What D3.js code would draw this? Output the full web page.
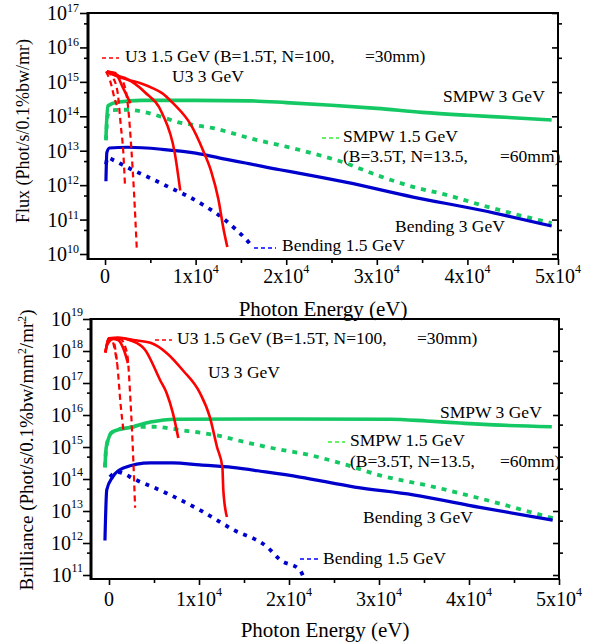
<!DOCTYPE html>
<html><head><meta charset="utf-8">
<script src="https://cdn.jsdelivr.net/npm/d3@7"></script>
<style>body{margin:0;background:#fff}svg{display:block}</style>
</head><body>
<svg id="c" width="592" height="644"></svg>
<script>
// ---------------- DATA (photon energy in eV, value) ----------------
// Top panel: Flux (Phot/s/0.1%bw/mr)
const fluxU3_15 = [
  [[100,2.0e15],[550,1.1e15],[1100,3.0e14],[1300,2.1e14]],
  [[200,2.0e15],[900,1.3e15],[1400,4.7e14],[1750,5e13],[2000,1.05e13],[2200,1.0e12]],
  [[300,2.0e15],[1500,1.5e15],[2200,7e14],[2550,1.8e14],[2900,1.2e13],[3200,6e11],[3500,1.5e10]]
];
const fluxU3_3 = [
  [[200,2.0e15],[1100,1.8e15],[2000,6.6e14],[2800,2.4e14]],
  [[200,2.0e15],[1000,1.6e15],[2200,1.3e15],[4400,5e14],[6300,1.23e14],[7700,8.5e12],[8300,7e11]],
  [[200,2.0e15],[1200,1.5e15],[2500,1.15e15],[4000,9e14],[5300,6.5e14],[6300,4.7e14],[7500,2.4e14],[9500,5.5e13],[10800,1.05e13],[11700,2.6e12],[12500,4e11],[13100,5e10],[13500,1.6e10]]
];
const fluxSMPW3 = [[100,2.3e13],[300,2.0e14],[1500,2.6e14],[4000,2.9e14],[10000,2.9e14],[16000,2.8e14],[20000,2.5e14],[25000,2.1e14],[30000,1.7e14],[35000,1.3e14],[40000,1.07e14],[45000,9.1e13],[49300,7.8e13]];
const fluxSMPW15 = [[100,2.0e13],[300,1.1e14],[800,1.5e14],[2500,1.55e14],[4500,1.3e14],[6300,9.5e13],[8000,6.8e13],[10000,5.5e13],[11800,4.6e13],[13600,3.5e13],[15500,2.5e13],[21500,1.05e13],[26300,4.6e12],[30400,1.8e12],[34000,8.9e11],[37700,5.2e11],[41400,2.7e11],[45000,1.5e11],[49300,7.9e10]];
const fluxBend3 = [[100,1.3e12],[200,8.9e12],[500,1.2e13],[2500,1.26e13],[6300,1.1e13],[10000,8.5e12],[13700,5.4e12],[15500,4.4e12],[19300,2.8e12],[21500,2.2e12],[26700,1.2e12],[34000,4.5e11],[41400,1.9e11],[49300,6.5e10]];
const fluxBend15 = [[100,4.0e12],[300,6.3e12],[1000,5.2e12],[3000,2.8e12],[5000,1.6e12],[7000,8.9e11],[9000,5.0e11],[11000,2.5e11],[13000,1.1e11],[14500,5e10],[15500,2.8e10],[16300,1.6e10]];

// Bottom panel: Brilliance (Phot/s/0.1%bw/mm^2/mr^2)
const brilU3_15 = [
  [[-200,1.5e18],[300,2.2e18],[700,9e17],[900,4e17]],
  [[-100,2.0e18],[400,2.3e18],[900,4.3e17],[1300,2e16],[1600,3.4e15]],
  [[0,2.3e18],[1200,2.4e18],[2000,8.7e17],[2400,2.4e16],[2700,4e14],[2900,1.26e13]]
];
const brilU3_3 = [
  [[-400,9e17],[0,2.5e18],[1000,2.2e18],[1700,1e18],[2100,4.2e17]],
  [[-400,9e17],[0,2.5e18],[1000,2.6e18],[2500,2.1e18],[4000,1.1e18],[5700,1.2e17],[6400,4.9e16],[7100,1.15e16],[7700,1.9e15]],
  [[-400,9e17],[0,2.5e18],[1000,2.6e18],[2700,2.2e18],[4600,1.8e18],[6400,8.7e17],[8200,2.5e17],[10100,4.9e16],[11200,8.7e15],[12000,1e15],[12600,2.3e14],[12700,4.6e13],[13100,6.5e12]]
];
const brilSMPW3 = [[-450,2.3e14],[-300,1e15],[400,3e15],[2700,4.3e15],[4600,6e15],[7400,7.4e15],[20000,7.5e15],[31200,7.4e15],[35300,6.5e15],[39000,5.6e15],[42700,4.9e15],[49200,4.3e15]];
const brilSMPW15 = [[-450,2.3e14],[-300,1e15],[300,2.8e15],[2300,4.2e15],[5000,4.3e15],[7900,3.4e15],[12000,2.3e15],[15700,1.3e15],[19300,8e14],[21200,6.5e14],[26400,2.75e14],[30100,1.3e14],[35700,6e13],[39300,3.4e13],[43100,1.8e13],[46800,9.3e12],[49300,6e12]];
const brilBend3 = [[-450,1.2e12],[-250,4.6e13],[400,1.15e14],[1600,2.2e14],[4600,3.2e14],[7100,3.2e14],[10100,2.75e14],[13700,2.3e14],[17400,1.66e14],[21200,1.15e14],[27300,5.6e13],[33800,3.2e13],[41200,1.3e13],[49300,5.2e12]];
const brilBend15 = [[100,1.15e14],[900,1.66e14],[3000,9.3e13],[6400,3.6e13],[10100,1.07e13],[13800,2.6e12],[17600,7.4e11],[19000,3e11],[21200,1.45e11],[21600,8.7e10]];

// Ticks
const xTicks = [0,10000,20000,30000,40000,50000];
const xTickBase = ["0","1x10","2x10","3x10","4x10","5x10"];
const xTickExp = ["","4","4","4","4","4"];
const xMinor = [5000,15000,25000,35000,45000];
const fluxDecades = [10,11,12,13,14,15,16,17];
const brilDecades = [11,12,13,14,15,16,17,18,19];

// Texts
const xTitle = "Photon Energy (eV)";
const labelU3_15 = ["U3 1.5 GeV (B=1.5T, N=100,", "=30mm)"];
const labelU3_3 = "U3 3 GeV";
const labelSMPW3 = "SMPW 3 GeV";
const labelSMPW15 = ["SMPW 1.5 GeV", "(B=3.5T, N=13.5,", "=60mm)"];
const labelBend3 = "Bending 3 GeV";
const labelBend15 = "Bending 1.5 GeV";

// ---------------- DRAWING ----------------
const svg = d3.select("#c");
const FONT = "'Liberation Serif','Times New Roman',serif";
const RED = "#ff0000", GREEN = "#14c864", BLUE = "#0000cc";

function drawPanel(p) {
  const x = d3.scaleLinear().domain(p.xDomain).range([p.left, p.right]);
  const y = d3.scaleLog().domain(p.yDomain).range([p.bottom, p.top]);
  const g = svg.append("g");
  const clipId = "clip" + p.id;
  svg.append("clipPath").attr("id", clipId).append("rect")
    .attr("x", p.left).attr("y", p.top).attr("width", p.right - p.left).attr("height", p.bottom - p.top);
  const line = d3.line().x(d => x(d[0])).y(d => y(d[1])).curve(d3.curveMonotoneX);
  const plot = g.append("g").attr("clip-path", `url(#${clipId})`);
  p.series.forEach(s => {
    s.curves.forEach(c => plot.append("path").attr("d", line(c))
      .attr("fill", "none").attr("stroke", s.color).attr("stroke-width", s.width)
      .attr("stroke-dasharray", s.dash || null).attr("stroke-linejoin", "round"));
  });

  // X axis ticks
  const xa = g.append("g").attr("transform", `translate(0,${p.bottom})`)
    .call(d3.axisBottom(x).tickValues(xTicks).tickSize(6).tickFormat(""));
  const xm = g.append("g").attr("transform", `translate(0,${p.bottom})`)
    .call(d3.axisBottom(x).tickValues(xMinor).tickSize(4).tickFormat(""));
  // Y axis ticks (left, outward)
  const ymaj = p.decades.map(n => Math.pow(10, n));
  const ymin = p.decades.map(n => 5 * Math.pow(10, n)).filter(v => v < p.yDomain[1]);
  const ya = g.append("g").attr("transform", `translate(${p.left},0)`)
    .call(d3.axisLeft(y).tickValues(ymaj).tickSize(8).tickFormat(""));
  const yam = g.append("g").attr("transform", `translate(${p.left},0)`)
    .call(d3.axisLeft(y).tickValues(ymin).tickSize(4).tickFormat(""));
  // right side: major inward, minor outward
  const yr = g.append("g").attr("transform", `translate(${p.right},0)`)
    .call(d3.axisLeft(y).tickValues(ymaj).tickSize(6).tickFormat(""));
  const yrm = g.append("g").attr("transform", `translate(${p.right},0)`)
    .call(d3.axisRight(y).tickValues(ymin).tickSize(4).tickFormat(""));
  [xa, xm, ya, yam, yr, yrm].forEach(a => {
    a.select(".domain").remove();
    a.selectAll("line").attr("stroke", "#000").attr("stroke-width", 1.6);
  });

  // frame
  g.append("rect").attr("x", p.left).attr("y", p.top).attr("width", p.right - p.left)
    .attr("height", p.bottom - p.top).attr("fill", "none").attr("stroke", "#000").attr("stroke-width", 2);
  g.append("line").attr("x1", p.left).attr("x2", p.left).attr("y1", p.top - 1).attr("y2", p.bottom + 1)
    .attr("stroke", "#000").attr("stroke-width", 3);

  // X tick labels
  xTicks.forEach((t, i) => {
    const tx = g.append("text").attr("x", x(t)).attr("y", p.xLabelY).attr("text-anchor", "middle")
      .attr("font-family", FONT).attr("font-size", 20).text(xTickBase[i]);
    if (xTickExp[i]) tx.append("tspan").attr("dy", -10).attr("font-size", 12).text(xTickExp[i]);
  });
  // Y tick labels
  p.decades.forEach(n => {
    const ty = y(Math.pow(10, n));
    const t = g.append("text").attr("x", p.yLabelX).attr("y", ty + 7).attr("text-anchor", "end")
      .attr("font-family", FONT).attr("font-size", 20).text("10");
    t.append("tspan").attr("dy", p.supDy).attr("font-size", 12).text(String(n));
  });

  // axis titles
  g.append("text").attr("x", (p.left + p.right) / 2).attr("y", p.xTitleY).attr("text-anchor", "middle")
    .attr("font-family", FONT).attr("font-size", 21).text(xTitle);
  const yt = g.append("text").attr("transform", `translate(${p.yTitleX},${p.yTitleY}) rotate(-90)`)
    .attr("text-anchor", "middle").attr("font-family", FONT).attr("font-size", p.yTitleSize);
  p.yTitle.forEach(part => {
    const ts = yt.append("tspan").text(part.t);
    if (part.sup) ts.attr("dy", -7).attr("font-size", p.yTitleSize * 0.62);
    if (part.after) ts.attr("dy", 7);
  });

  // legend labels
  const L = p.legend;
  const txt = (xx, yy, s) => g.append("text").attr("x", xx).attr("y", yy)
    .attr("font-family", FONT).attr("font-size", 17.5).text(s);
  const sample = (x1, x2, yy, col, dash, w) => g.append("line").attr("x1", x1).attr("x2", x2)
    .attr("y1", yy).attr("y2", yy).attr("stroke", col).attr("stroke-width", w).attr("stroke-dasharray", dash);
  sample(L.u315[0], L.u315[1], L.u315[2], RED, "4,3", 1.3);
  txt(L.u315[3], L.u315[4], labelU3_15[0]);
  txt(L.u315[5], L.u315[4], labelU3_15[1]);
  txt(L.u33[0], L.u33[1], labelU3_3);
  txt(L.s3[0], L.s3[1], labelSMPW3);
  sample(L.s15[0], L.s15[1], L.s15[2], "#33ee33", "4,3", 1.3);
  txt(L.s15[3], L.s15[4], labelSMPW15[0]);
  txt(L.s15[3], L.s15[5], labelSMPW15[1]);
  txt(L.s15[6], L.s15[5], labelSMPW15[2]);
  txt(L.b3[0], L.b3[1], labelBend3);
  sample(L.b15[0], L.b15[1], L.b15[2], "#0000ff", "4,3", 1.3);
  txt(L.b15[3], L.b15[4], labelBend15);
}

const styles = (u315, u33, s3, s15, b3, b15) => [
  {curves: [s15], color: GREEN, width: 3.8, dash: "5,6"},
  {curves: [s3], color: GREEN, width: 3.6},
  {curves: [b15], color: BLUE, width: 3.8, dash: "4,6"},
  {curves: [b3], color: BLUE, width: 3.2},
  {curves: u315, color: RED, width: 2.2, dash: "6,4"},
  {curves: u33, color: RED, width: 2.6}
];

drawPanel({
  id: "top", left: 88, right: 558, top: 13, bottom: 259,
  xDomain: [-1880, 50000], yDomain: [Math.pow(10, 9.855), 1e17], decades: fluxDecades,
  series: styles(fluxU3_15, fluxU3_3, fluxSMPW3, fluxSMPW15, fluxBend3, fluxBend15),
  xLabelY: 283, yLabelX: 79, supDy: -8, xTitleY: 316,
  yTitleX: 29, yTitleY: 131, yTitleSize: 18,
  yTitle: [{t: "Flux (Phot/s/0.1%bw/mr)"}],
  legend: {
    u315: [102, 119, 58, 125, 62, 365],
    u33: [172, 82],
    s3: [443, 102],
    s15: [322, 339, 138, 343, 142, 162, 500],
    b3: [395, 232],
    b15: [254, 276, 248, 282, 251]
  }
});

drawPanel({
  id: "bot", left: 91, right: 559, top: 319, bottom: 579,
  xDomain: [-2000, 50000], yDomain: [Math.pow(10, 10.875), 1e19], decades: brilDecades,
  series: styles(brilU3_15, brilU3_3, brilSMPW3, brilSMPW15, brilBend3, brilBend15),
  xLabelY: 606, yLabelX: 83, supDy: -10, xTitleY: 637,
  yTitleX: 33, yTitleY: 450, yTitleSize: 19,
  yTitle: [{t: "Brilliance (Phot/s/0.1%bw/mm"}, {t: "2", sup: true}, {t: "/mr", after: true}, {t: "2", sup: true}, {t: ")", after: true}],
  legend: {
    u315: [155, 172, 340, 177, 344, 417],
    u33: [208, 378],
    s3: [440, 418],
    s15: [328, 345, 442, 350, 446, 467, 500],
    b3: [363, 523],
    b15: [300, 318, 559, 323, 564]
  }
});
</script>
</body></html>
